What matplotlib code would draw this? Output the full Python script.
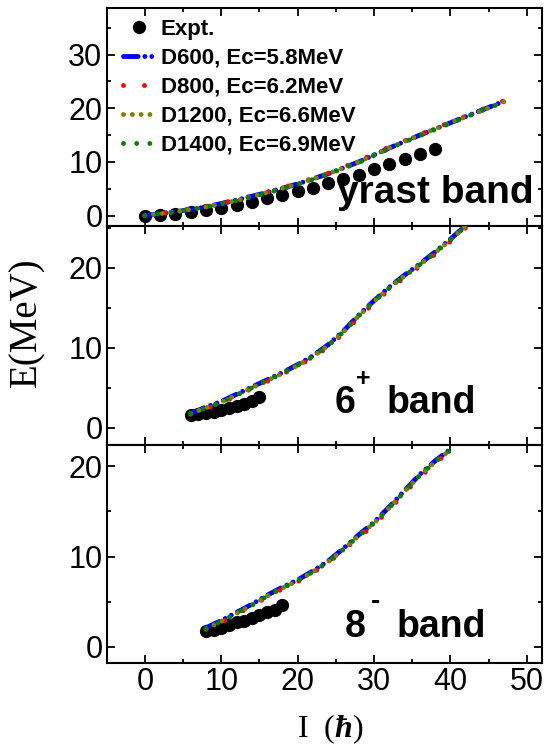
import matplotlib
matplotlib.use("Agg")
import matplotlib.pyplot as plt
from matplotlib.ticker import MultipleLocator

plt.rcParams['font.family'] = ['Liberation Sans', 'DejaVu Sans']
plt.rcParams['mathtext.fontset'] = 'custom'
plt.rcParams['mathtext.rm'] = 'Liberation Serif'
plt.rcParams['mathtext.bf'] = 'Liberation Serif:bold:italic'

# --- experimental data ---
yrast_I = [0, 2, 4, 6, 8, 10, 12, 14, 16, 18, 20, 22, 24, 26, 28, 30, 32, 34, 36, 38]
yrast_E = [0.0, 0.1, 0.3, 0.6, 1.0, 1.4, 1.9, 2.6, 3.2, 3.8, 4.6, 5.2, 6.1, 6.9, 7.6, 8.6, 9.6, 10.5, 11.5, 12.5]

b6_I = [6, 7, 8, 9, 10, 11, 12, 13, 14, 15]
b6_E = [1.6, 1.7, 1.9, 2.0, 2.25, 2.5, 2.75, 3.0, 3.35, 3.9]

b8_I = [8, 9, 10, 11, 12, 13, 14, 15, 16, 17, 18]
b8_E = [1.7, 1.8, 2.1, 2.4, 2.7, 2.9, 3.2, 3.5, 3.8, 4.1, 4.6]

# --- calculations (D600, D800, D1200, D1400) ---
th_yrast_I = [0, 4, 8, 12, 16, 20, 24, 28, 32, 36, 40, 44, 47]
th_yrast = {
    'D600':  [0.0, 0.7, 1.6, 2.9, 4.3, 5.9, 7.8, 10.0, 12.6, 15.0, 17.3, 19.6, 21.3],
    'D800':  [0.0, 0.8, 1.7, 2.9, 4.4, 6.0, 7.9, 10.2, 12.8, 15.1, 17.4, 19.7, 21.4],
    'D1200': [0.0, 0.7, 1.6, 2.8, 4.3, 5.9, 7.8, 10.0, 12.6, 15.0, 17.3, 19.5, 21.2],
    'D1400': [0.0, 0.7, 1.6, 2.8, 4.2, 5.8, 7.7, 9.9, 12.5, 14.9, 17.2, 19.5, 21.2],
}

th_b6_I = [6, 8, 10, 12, 14, 16, 18, 20, 22, 24, 26, 28, 30, 32, 34, 36, 38, 40, 42]
th_b6 = {
    'D600':  [1.8, 2.6, 3.3, 4.2, 5.1, 6.0, 6.9, 7.9, 9.0, 10.4, 12.1, 14.1, 15.9, 17.6, 19.1, 20.5, 22.0, 23.6, 25.3],
    'D800':  [1.7, 2.4, 3.1, 4.0, 4.9, 5.8, 6.7, 7.7, 8.8, 10.1, 11.8, 13.8, 15.6, 17.3, 18.8, 20.2, 21.7, 23.3, 25.0],
    'D1200': [1.8, 2.5, 3.2, 4.1, 5.0, 5.9, 6.8, 7.8, 8.9, 10.3, 12.0, 14.0, 15.8, 17.5, 19.0, 20.4, 21.9, 23.5, 25.2],
    'D1400': [1.8, 2.5, 3.2, 4.1, 5.0, 5.9, 6.8, 7.8, 8.9, 10.3, 12.0, 14.0, 15.8, 17.5, 19.0, 20.4, 21.9, 23.5, 25.2],
}

th_b8_I = [8, 10, 12, 14, 16, 18, 20, 22, 24, 26, 28, 30, 32, 34, 36, 38, 40]
th_b8 = {
    'D600':  [2.1, 2.9, 3.8, 4.7, 5.7, 6.6, 7.4, 8.4, 9.5, 10.9, 12.4, 13.8, 15.5, 17.3, 19.1, 20.6, 21.9],
    'D800':  [1.9, 2.7, 3.6, 4.5, 5.5, 6.4, 7.2, 8.2, 9.3, 10.7, 12.1, 13.5, 15.2, 17.0, 18.8, 20.3, 21.8],
    'D1200': [2.0, 2.8, 3.7, 4.6, 5.6, 6.5, 7.3, 8.3, 9.4, 10.8, 12.3, 13.7, 15.4, 17.2, 19.0, 20.5, 21.8],
    'D1400': [2.0, 2.8, 3.7, 4.6, 5.6, 6.5, 7.3, 8.3, 9.4, 10.8, 12.3, 13.7, 15.4, 17.2, 19.0, 20.5, 21.8],
}

series = ['D600', 'D800', 'D1200', 'D1400']
labels = ['D600, Ec=5.8MeV', 'D800, Ec=6.2MeV', 'D1200, Ec=6.6MeV', 'D1400, Ec=6.9MeV']
colors = ['blue', 'red', '#808000', 'green']
styles = [(0, (3.0, 1.4, 0.01, 1.4, 0.01, 1.4)), (0, (0.01, 4.3)), (0, (0.01, 1.8)), (0, (0.01, 2.7))]

fig = plt.figure(figsize=(5.44, 7.46), dpi=100)
gs = fig.add_gridspec(3, 1, left=0.196, right=0.9965, top=0.9893, bottom=0.1113, hspace=0)
axes = [fig.add_subplot(gs[i]) for i in range(3)]

panels = [
    (yrast_I, yrast_E, th_yrast_I, th_yrast, (-2, 38.7)),
    (b6_I, b6_E, th_b6_I, th_b6, (-2.1, 25.2)),
    (b8_I, b8_E, th_b8_I, th_b8, (-1.8, 22.4)),
]

for ax, (ei, ee, ti, th, ylim) in zip(axes, panels):
    ax.plot(ei, ee, 'o', color='black', ms=8.5, label='Expt.', zorder=2)
    for s, lab, c, ls in zip(series, labels, colors, styles):
        ax.plot(ti, th[s], color=c, lw=3.5, linestyle=ls, dash_capstyle='round',
                label=lab, zorder=3)
    ax.set_xlim(-5, 52)
    ax.set_ylim(*ylim)
    ax.xaxis.set_major_locator(MultipleLocator(10))
    ax.xaxis.set_minor_locator(MultipleLocator(5))
    ax.yaxis.set_major_locator(MultipleLocator(10))
    ax.yaxis.set_minor_locator(MultipleLocator(5))
    ax.tick_params(which='both', direction='in', top=True, right=True, width=1.3)
    ax.tick_params(which='major', length=6, labelsize=22, pad=3)
    ax.tick_params(which='minor', length=3)
    for sp in ax.spines.values():
        sp.set_linewidth(1.5)

axes[0].tick_params(labelbottom=False)
axes[1].tick_params(labelbottom=False)

axes[0].legend(loc='upper left', bbox_to_anchor=(0.037, 0.95), frameon=False,
               prop={'weight': 'bold', 'size': 16}, handlelength=1.5,
               handletextpad=0.2, labelspacing=0.36, borderpad=0, borderaxespad=0)

# band labels
axes[0].text(25.1, 2.4, 'yrast band', fontsize=28, fontweight='bold', va='baseline')
axes[1].text(24.9, 1.9, '6', fontsize=27, fontweight='bold', va='baseline')
axes[1].text(27.6, 5.2, '+', fontsize=18, fontweight='bold', va='baseline')
axes[1].text(31.6, 1.9, 'band', fontsize=27, fontweight='bold', va='baseline')
axes[2].text(26.2, 1.1, '8', fontsize=27, fontweight='bold', va='baseline')
axes[2].text(29.6, 5.0, '-', fontsize=20, fontweight='bold', va='center')
axes[2].text(33.0, 1.1, 'band', fontsize=27, fontweight='bold', va='baseline')

fig.text(27 / 544, 1 - 322 / 746, 'E(MeV)', rotation=90, ha='center', va='center',
         fontsize=28, family=['Liberation Serif', 'DejaVu Serif'])
fig.text(330 / 544, 1 - 729 / 746, r'I  ($\mathbf{\hbar}$)', ha='center', va='center',
         fontsize=23, family=['Liberation Serif', 'DejaVu Serif'])

fig.savefig('out.png', dpi=100)
